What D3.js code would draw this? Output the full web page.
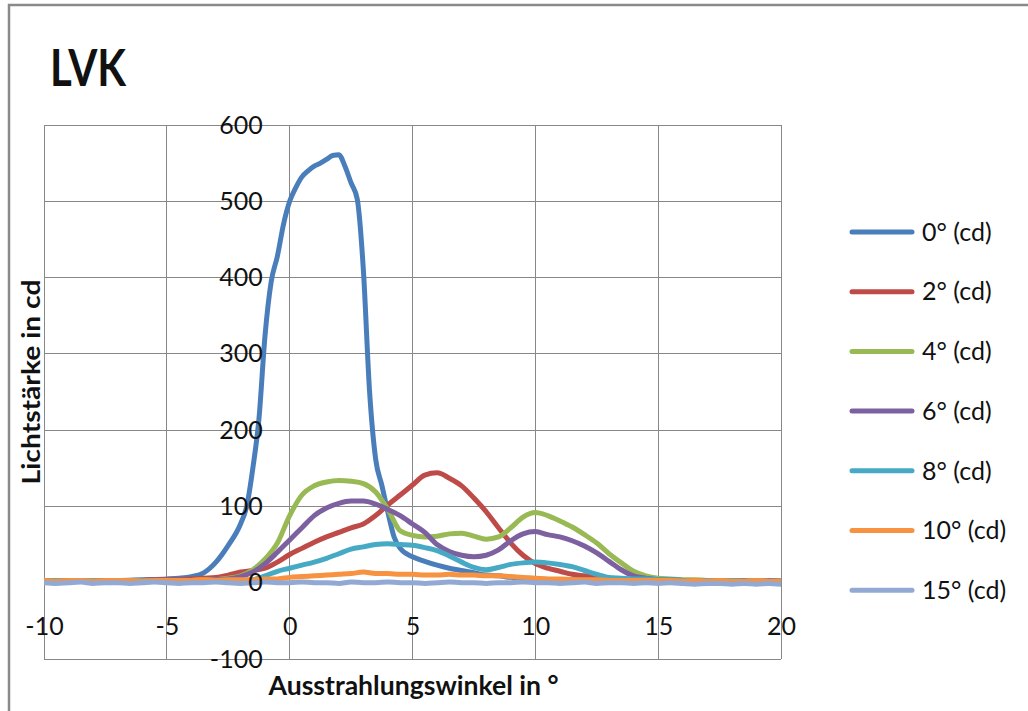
<!DOCTYPE html>
<html>
<head>
<meta charset="utf-8">
<script src="https://cdn.jsdelivr.net/npm/d3@7"></script>
<style>
  body { margin: 0; background: #fff; }
  svg { display: block; }
  text { font-family: Lato, "Open Sans", sans-serif; fill: #111; }
</style>
</head>
<body>
<svg id="chart" width="1028" height="711"></svg>
<script>
// Measurement angles (°) shared by the 2°–15° series
const angles = [
  -10,-9.5,-9,-8.5,-8,-7.5,-7,-6.5,-6,-5.5,
  -5,-4.5,-4,-3.5,-3,-2.5,-2,-1.5,-1,-0.5,
  0,0.5,1,1.5,2,2.5,3,3.5,4,4.5,
  5,5.5,6,6.5,7,7.5,8,8.5,9,9.5,
  10,10.5,11,11.5,12,12.5,13,13.5,14,14.5,
  15,15.5,16,16.5,17,17.5,18,18.5,19,19.5,
  20
];

// The 0° series is sampled more densely around its narrow peak
const angles0 = [
  -10,-9,-8,-7,-6,-5,-4.5,-4,-3.5,-3,-2.5,-2,-1.75,-1.5,-1.25,-1,-0.75,-0.5,-0.25,
  0,0.25,0.5,0.75,1,1.25,1.5,1.75,2,2.25,2.5,2.75,3,3.25,3.5,3.75,4,4.25,4.5,
  5,5.5,6,6.5,7,7.5,8,8.5,9,10,11,12,13,14,15,16,17,18,19,20
];
const cd0 = [
  3,2,3,3,4,5,6,8,13,27,49,77,100,150,215,325,395,428,470,
  500,518,532,540,546,550,555,560,561,546,524,503,410,252,162,128,92,60,45,
  34,28,23,19,16,13,10,9,7,5,4,4,3,3,3,3,2,3,2,2
];

// Luminous intensity (cd) per angle, one array per tilt
const cd2 = [
  3,2,3,2,3,3,2,3,3,4,
  4,4,5,6,7,10,14,16,19,27,
  37,45,53,60,66,72,77,88,102,115,
  128,141,144,137,127,111,93,72,52,36,
  25,19,15,11,9,7,5,4,4,3,
  3,3,2,3,3,2,3,2,2,3,
  2
];
const cd4 = [
  3,2,3,3,2,3,3,2,3,3,
  3,3,3,4,4,6,9,17,31,52,
  88,115,127,132,134,133,130,119,96,68,
  62,60,61,64,65,61,57,60,72,86,
  92,88,81,73,63,52,38,26,15,9,
  6,5,4,4,3,3,3,2,3,2,
  3
];
const cd6 = [
  2,3,3,2,3,3,2,3,3,3,
  3,3,3,3,4,5,8,14,25,40,
  56,72,88,98,104,107,107,103,96,88,
  77,66,50,41,36,34,36,43,55,64,
  67,63,60,55,48,39,28,17,9,6,
  4,4,3,3,3,2,3,3,2,3,
  2
];
const cd8 = [
  3,3,2,3,3,2,3,3,3,2,
  3,3,3,3,3,3,3,4,9,15,
  19,23,27,32,38,44,47,50,51,50,
  49,46,42,35,27,20,17,20,24,26,
  27,26,24,21,16,11,7,6,5,5,
  4,4,3,3,3,2,3,2,3,2,
  2
];
const cd10 = [
  3,2,3,3,2,3,3,3,2,3,
  3,3,3,4,3,4,4,4,5,5,
  7,8,9,10,11,12,14,12,12,11,
  11,10,10,11,10,10,9,9,8,7,
  6,5,5,4,4,4,3,3,3,3,
  3,3,2,3,2,3,2,2,3,2,
  2
];
const cd15 = [
  0,-1,0,1,-1,0,0,-1,0,1,
  0,-1,0,0,1,0,-1,0,1,0,
  0,1,0,0,-1,1,0,0,1,0,
  0,-1,0,1,0,0,-1,0,0,1,
  0,0,-1,0,1,-1,0,0,-1,0,
  -1,0,-1,-2,-1,-1,-2,-1,-2,-1,
  -2
];

const seriesNames = ["0° (cd)", "2° (cd)", "4° (cd)", "6° (cd)", "8° (cd)", "10° (cd)", "15° (cd)"];
const seriesColors = ["#4A7EBB", "#BE4B48", "#98B954", "#7D60A0", "#46AAC5", "#F69240", "#92A9D3"];
const xTicks = [-10, -5, 0, 5, 10, 15, 20];
const yTicks = [-100, 0, 100, 200, 300, 400, 500, 600];

const series = [
  { name: seriesNames[0], color: seriesColors[0], points: angles0.map((a, i) => [a, cd0[i]]) },
  ...[cd2, cd4, cd6, cd8, cd10, cd15].map((vals, k) => ({
    name: seriesNames[k + 1],
    color: seriesColors[k + 1],
    points: angles.map((a, i) => [a, vals[i]])
  }))
];

const svg = d3.select("#chart");
const plot = { left: 44, right: 781, top: 125, bottom: 659 };

const x = d3.scaleLinear().domain([-10, 20]).range([plot.left, plot.right]);
const y = d3.scaleLinear().domain([-100, 600]).range([plot.bottom, plot.top]);

// Outer frame (top and left edges)
svg.append("path")
  .attr("d", "M9,711 V5 H1028")
  .attr("fill", "none")
  .attr("stroke", "#8a8a8a")
  .attr("stroke-width", 2.5);

// Title
svg.append("text")
  .attr("x", 50).attr("y", 86)
  .attr("font-size", 52).attr("font-weight", 700)
  .attr("textLength", 76).attr("lengthAdjust", "spacingAndGlyphs")
  .text("LVK");

// Grid
const grid = svg.append("g").attr("stroke", "#888").attr("stroke-width", 1).attr("shape-rendering", "crispEdges");
grid.selectAll("line.v").data(xTicks).join("line")
  .attr("class", "v")
  .attr("x1", d => x(d)).attr("x2", d => x(d))
  .attr("y1", plot.top).attr("y2", plot.bottom);
grid.selectAll("line.h").data(yTicks).join("line")
  .attr("class", "h")
  .attr("x1", plot.left).attr("x2", plot.right)
  .attr("y1", d => y(d)).attr("y2", d => y(d));

// Curves
svg.append("clipPath").attr("id", "plotClip")
  .append("rect")
  .attr("x", plot.left).attr("y", plot.top)
  .attr("width", plot.right - plot.left).attr("height", plot.bottom - plot.top);

const line = d3.line()
  .x(d => x(d[0]))
  .y(d => y(d[1]))
  .curve(d3.curveMonotoneX);

svg.append("g").attr("clip-path", "url(#plotClip)")
  .selectAll("path").data(series).join("path")
  .attr("d", d => line(d.points))
  .attr("fill", "none")
  .attr("stroke", d => d.color)
  .attr("stroke-width", 5)
  .attr("stroke-linejoin", "round")
  .attr("stroke-linecap", "round");

// Axes cross at the origin; only their labels are shown
const plainNumber = d => String(d);
const xAxis = svg.append("g")
  .attr("transform", `translate(0,${y(0)})`)
  .call(d3.axisBottom(x).tickValues(xTicks).tickSize(0).tickPadding(35).tickFormat(plainNumber));
const yAxis = svg.append("g")
  .attr("transform", `translate(${x(0)},0)`)
  .call(d3.axisLeft(y).tickValues(yTicks).tickSize(0).tickPadding(27).tickFormat(plainNumber));
[xAxis, yAxis].forEach(g => {
  g.select(".domain").remove();
  g.selectAll("text")
    .attr("font-family", "Lato, 'Open Sans', sans-serif")
    .attr("font-size", 25)
    .attr("fill", "#111");
});

// Axis titles
svg.append("text")
  .attr("x", (plot.left + plot.right) / 2 + 1).attr("y", 695)
  .attr("text-anchor", "middle")
  .attr("font-size", 26).attr("font-weight", 700)
  .attr("textLength", 290).attr("lengthAdjust", "spacingAndGlyphs")
  .text("Ausstrahlungswinkel in °");

svg.append("text")
  .attr("transform", "translate(40,382) rotate(-90)")
  .attr("text-anchor", "middle")
  .attr("font-size", 24).attr("font-weight", 700)
  .attr("textLength", 205).attr("lengthAdjust", "spacingAndGlyphs")
  .text("Lichtstärke in cd");

// Legend
const legend = svg.append("g")
  .selectAll("g").data(series).join("g")
  .attr("transform", (d, i) => `translate(852,${232 + i * 59.7})`);
legend.append("line")
  .attr("x1", 0).attr("x2", 60)
  .attr("stroke", d => d.color)
  .attr("stroke-width", 5)
  .attr("stroke-linecap", "round");
legend.append("text")
  .attr("x", 70).attr("y", 0).attr("dy", "0.35em")
  .attr("font-size", 25)
  .text(d => d.name);
</script>
</body>
</html>
